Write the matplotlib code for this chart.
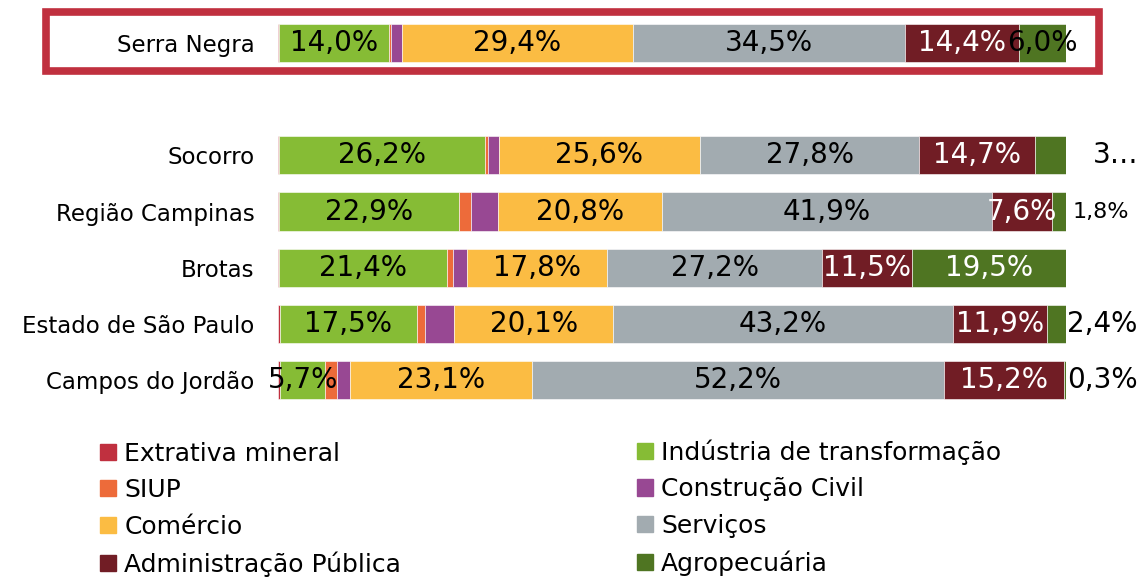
import matplotlib
matplotlib.use('Agg')
import matplotlib.pyplot as plt
from matplotlib.patches import Rectangle, Patch

# participação (%) de cada setor no emprego, por região
regioes = ['Campos do Jordão', 'Estado de São Paulo', 'Brotas',
           'Região Campinas', 'Socorro', 'Serra Negra']
extrativa = [0.3, 0.2, 0.1, 0.1, 0.1, 0.1]
industria = [5.7, 17.5, 21.4, 22.9, 26.2, 14.0]
siup = [1.5, 0.9, 0.7, 1.5, 0.3, 0.2]
construcao = [1.7, 3.8, 1.8, 3.4, 1.4, 1.4]
comercio = [23.1, 20.1, 17.8, 20.8, 25.6, 29.4]
servicos = [52.2, 43.2, 27.2, 41.9, 27.8, 34.5]
administracao = [15.2, 11.9, 11.5, 7.6, 14.7, 14.4]
agropecuaria = [0.3, 2.4, 19.5, 1.8, 3.9, 6.0]

setores = ['Extrativa mineral', 'Indústria de transformação', 'SIUP',
           'Construção Civil', 'Comércio', 'Serviços',
           'Administração Pública', 'Agropecuária']
valores = [extrativa, industria, siup, construcao, comercio, servicos,
           administracao, agropecuaria]
cores = ['#C0303F', '#86BC35', '#ED6B3A', '#984893', '#FBBC43', '#A2ABB0',
         '#711D25', '#4F7522']

# Serra Negra fica separada no topo
pos = [0, 1, 2, 3, 4, 6]

fig = plt.figure(figsize=(11.42, 5.78), dpi=100)
ax = fig.add_axes([0.2434, 0.294, 0.690, 0.680])

esquerda = [0.0] * len(regioes)
for k, (nome, vals, cor) in enumerate(zip(setores, valores, cores)):
    ax.barh(pos, vals, left=esquerda, height=0.68, color=cor,
            edgecolor='white', linewidth=0.4, label=nome)
    # rótulos só para os setores maiores
    if k in (1, 4, 5, 6, 7):
        for i, v in enumerate(vals):
            txt = f'{v:.1f}'.replace('.', ',') + '%'
            cor_txt = 'white' if k == 6 else 'black'
            x = esquerda[i] + v / 2
            ha = 'center'
            fs = 20
            if k == 7:
                if regioes[i] == 'Brotas':
                    cor_txt = 'white'
                elif regioes[i] == 'Socorro':
                    txt = '3…'
                    x, ha = 103.4, 'left'
                elif regioes[i] != 'Serra Negra':
                    x, ha = 100.1, 'left'
                    if regioes[i] == 'Região Campinas':
                        x, fs = 100.8, 16
            ax.text(x, pos[i], txt, ha=ha, va='center', fontsize=fs,
                    color=cor_txt, clip_on=False)
    esquerda = [a + b for a, b in zip(esquerda, vals)]

ax.set_xlim(0, 100)
ax.set_ylim(-0.5, 6.5)
ax.set_yticks(pos)
ax.set_yticklabels(regioes, fontsize=16.5)
ax.tick_params(axis='y', length=0, pad=17)
ax.set_xticks([])
for s in ax.spines.values():
    s.set_visible(False)

# destaque de Serra Negra
fig.patches.append(Rectangle((0.0403, 0.8772), 0.922, 0.102,
                             transform=fig.transFigure, fill=False,
                             edgecolor='#C0303F', linewidth=5.5))

handles = [Patch(color=c) for c in cores]
col1 = [0, 2, 4, 6]
col2 = [1, 3, 5, 7]
for idx, x0, y0 in ((col1, 0.0876, 0.236), (col2, 0.5578, 0.240)):
    fig.legend([handles[i] for i in idx], [setores[i] for i in idx],
               loc='upper left', bbox_to_anchor=(x0, y0), frameon=False,
               fontsize=18, handlelength=0.62, handleheight=0.62,
               handletextpad=0.35, labelspacing=0.5, borderpad=0,
               borderaxespad=0)

fig.savefig('out.png', dpi=100)
